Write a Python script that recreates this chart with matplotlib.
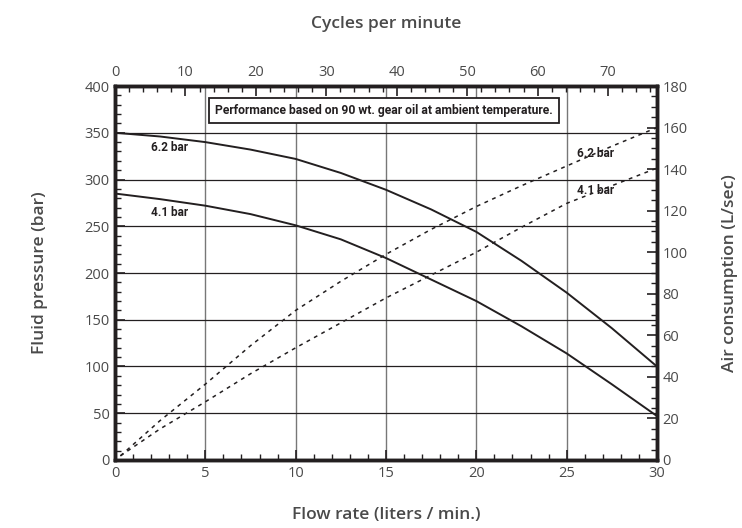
import matplotlib
matplotlib.use("Agg")
import matplotlib.pyplot as plt
from matplotlib.ticker import MultipleLocator

# flow rate (liters/min)
flow = [0, 2.5, 5, 7.5, 10, 12.5, 15, 17.5, 20, 22.5, 25, 27.5, 30]
# fluid pressure (bar)
press_62 = [350, 346, 340, 332, 322, 307, 289, 268, 244, 213, 179, 141, 100]
press_41 = [285, 279, 272, 263, 251, 236, 216, 193, 170, 143, 114, 81, 47]

# air consumption (L/sec)
air_flow = [0.3, 2.5, 5, 7.5, 10, 12.5, 15, 17.5, 20, 22.5, 25, 27.5, 30]
air_62 = [2, 19, 36.5, 55, 72, 86, 99, 111, 122, 132, 141.5, 151, 160]
air_41 = [2, 15, 28, 41.5, 54, 66, 78, 89, 100, 112, 123.5, 132, 140.5]

cycles_per_lpm = 2.565

label_font = "Open Sans"
txt_grey = "#4a4a4a"
ink = "#231f20"

fig = plt.figure(figsize=(7.42, 5.28), dpi=100)
ax = fig.add_axes([0.155, 0.1288, 0.7304, 0.7083])

# grid
for xv in [5, 10, 15, 20, 25]:
    ax.axvline(xv, color="#777777", lw=1.0, zorder=1)
for yv in [50, 100, 150, 200, 250, 300, 350]:
    ax.axhline(yv, color=ink, lw=0.9, zorder=1)

ax.plot(flow, press_62, color=ink, lw=1.4, zorder=3)
ax.plot(flow, press_41, color=ink, lw=1.4, zorder=3)

ax.set_xlim(0, 30)
ax.set_ylim(0, 400)
ax.xaxis.set_major_locator(MultipleLocator(5))
ax.xaxis.set_minor_locator(MultipleLocator(1))
ax.yaxis.set_major_locator(MultipleLocator(50))
ax.yaxis.set_minor_locator(MultipleLocator(10))

ax2 = ax.twinx()
ax2.plot(air_flow, air_62, color=ink, lw=1.1, ls=(0, (2.5, 3)), zorder=3)
ax2.plot(air_flow, air_41, color=ink, lw=1.1, ls=(0, (2.5, 3)), zorder=3)
ax2.set_ylim(0, 180)
ax2.yaxis.set_major_locator(MultipleLocator(20))
ax2.yaxis.set_minor_locator(MultipleLocator(5))

ax3 = ax.twiny()
ax3.set_xlim(0, 30 * cycles_per_lpm)
ax3.xaxis.set_major_locator(MultipleLocator(10))
ax3.xaxis.set_minor_locator(MultipleLocator(2))

for a in (ax, ax2, ax3):
    for s in a.spines.values():
        s.set_linewidth(2.4)
        s.set_color(ink)
    a.tick_params(which="major", direction="in", length=7, width=1.2,
                  color=ink, labelsize=10.5, labelcolor=txt_grey, pad=4)
    a.tick_params(which="minor", direction="in", length=4, width=1.0, color=ink)
    for lab in a.get_xticklabels() + a.get_yticklabels():
        lab.set_family(label_font)

lab_kw = dict(fontsize=12.5, fontweight="semibold", family=label_font, color=txt_grey)
ax.set_xlabel("Flow rate (liters / min.)", labelpad=19, **lab_kw)
ax.set_ylabel("Fluid pressure (bar)", labelpad=26, **lab_kw)
ax2.set_ylabel("Air consumption (L/sec)", labelpad=25, **lab_kw)
ax3.set_xlabel("Cycles per minute", labelpad=27, **lab_kw)

note_font = ["Roboto", "DejaVu Sans"]
ax.text(14.9, 374, "Performance based on 90 wt. gear oil at ambient temperature.",
        ha="center", va="center", fontsize=8.7, fontweight="bold", family=note_font,
        color=ink, zorder=5,
        bbox=dict(boxstyle="square,pad=0.5", fc="white", ec=ink, lw=1.3))

ax.text(3.0, 334, "6.2 bar", ha="center", va="center", fontsize=8.5,
        fontweight="bold", family=note_font, color=ink)
ax.text(3.0, 264.5, "4.1 bar", ha="center", va="center", fontsize=8.5,
        fontweight="bold", family=note_font, color=ink)
ax2.text(26.6, 147.6, "6.2 bar", ha="center", va="center", fontsize=8.5,
         fontweight="bold", family=note_font, color=ink)
ax2.text(26.6, 129.6, "4.1 bar", ha="center", va="center", fontsize=8.5,
         fontweight="bold", family=note_font, color=ink)

fig.savefig("out.png", dpi=100)
